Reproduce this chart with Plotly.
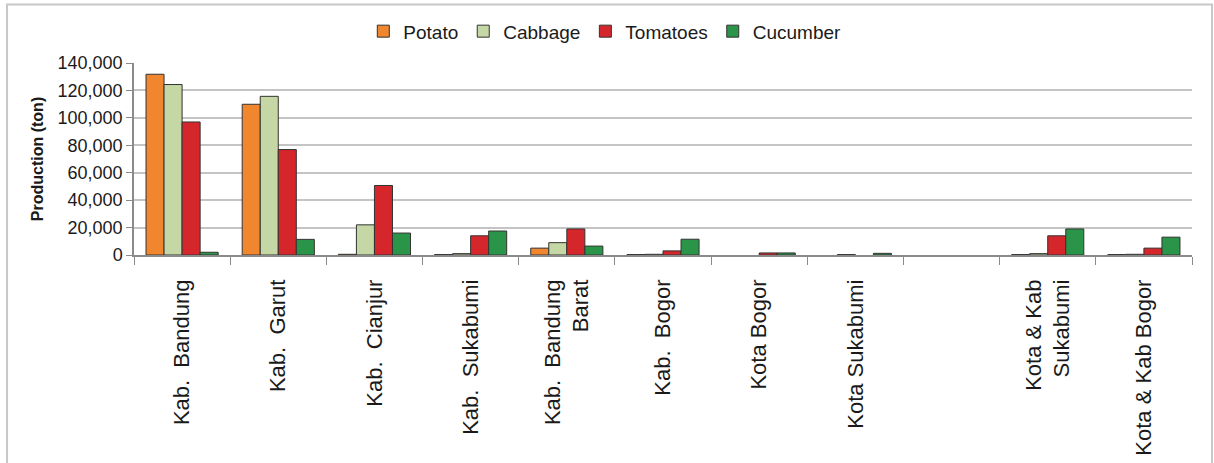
import plotly.graph_objects as go

categories = ["Kab.  Bandung", "Kab.  Garut", "Kab.  Cianjur", "Kab.  Sukabumi",
              "Kab.  Bandung<br>Barat", "Kab.  Bogor", "Kota Bogor", "Kota Sukabumi",
              " ", "Kota & Kab<br>Sukabumi", "Kota & Kab Bogor"]
potato   = [131800, 109900,   500,   300, 5000,   300, None, None, None,   300,   300]
cabbage  = [124300, 115700, 22000,  1000, 9000,   500, None,  300, None,  1000,   500]
tomatoes = [ 97000,  76900, 50700, 14000, 19000, 3000, 1500, None, None, 14000,  5000]
cucumber = [  2000,  11400, 16000, 17500,  6500, 11500, 1500, 1200, None, 19000, 13000]

series = [("Potato", potato, "#F0862D"), ("Cabbage", cabbage, "#C4D7A4"),
          ("Tomatoes", tomatoes, "#D5262B"), ("Cucumber", cucumber, "#2A9548")]

fig = go.Figure()
for name, vals, col in series:
    fig.add_trace(go.Bar(x=categories, y=vals, name=name,
                         marker=dict(color=col, line=dict(color="#333333", width=1))))

fig.update_layout(
    width=1214, height=463,
    margin=dict(l=134, r=22, t=63, b=208),
    paper_bgcolor="white", plot_bgcolor="white",
    barmode="group", bargap=0.25, bargroupgap=0,
    font=dict(family="Liberation Sans, Arial, sans-serif", color="#1a1a1a"),
    legend=dict(orientation="h", x=0.445, xanchor="center", y=1.165, yanchor="middle",
                font=dict(size=19), itemwidth=30, traceorder="normal",
                bgcolor="rgba(0,0,0,0)"),
    showlegend=True,
)
fig.update_yaxes(range=[0, 140000], dtick=20000, tickformat=",",
                 showgrid=True, gridcolor="#c4c4c4", gridwidth=1.5,
                 showline=True, linecolor="#8a8a8a", linewidth=1.5,
                 ticks="outside", ticklen=6, tickcolor="#8a8a8a",
                 tickfont=dict(size=18), automargin=False,
                 zeroline=False,
                 title=dict(text="<b>Production (ton)</b>", font=dict(size=16), standoff=10))
fig.update_xaxes(type="category", tickangle=-90, tickfont=dict(size=22),
                 showline=True, linecolor="#8a8a8a", linewidth=1.5,
                 ticks="outside", tickson="boundaries", ticklen=8, tickcolor="#8a8a8a",
                 ticklabelstandoff=14, automargin=False,
                 showgrid=False)

fig.add_shape(type="rect", xref="paper", yref="paper", x0=-0.12, x1=1.0189, y0=-1.2, y1=1.305,
              line=dict(color="#c8c8c8", width=2), fillcolor="rgba(0,0,0,0)", layer="below")

fig.write_html("out.html")
